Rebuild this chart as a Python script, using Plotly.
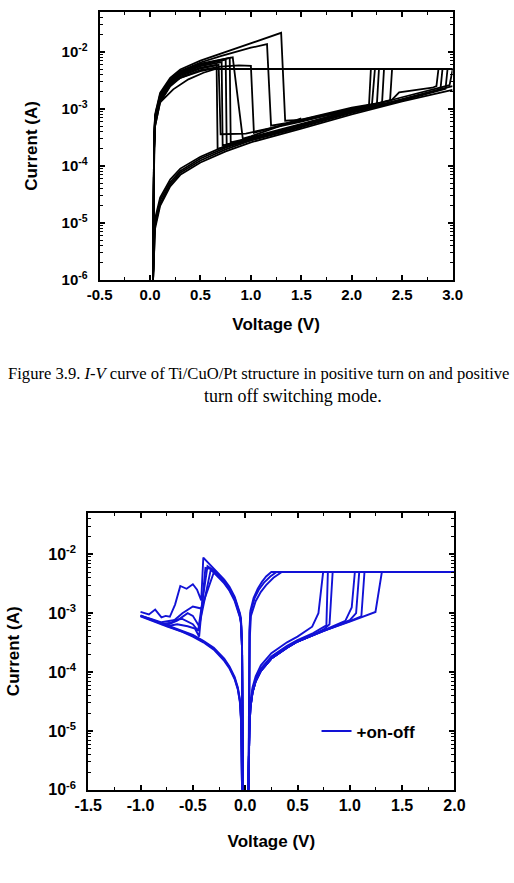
import plotly.graph_objects as go

# ---------------- top chart (Ti/CuO/Pt, positive on / positive off) ----------------
top_c1_v = [0.03, 0.035, 0.04, 0.05, 0.1, 0.2, 0.3, 0.5, 0.7, 1.0, 1.3, 1.34, 1.5, 2.0, 2.2, 2.23, 3.0]
top_c1_i = [1e-6, 2e-5, 3e-4, 8e-4, 1.9e-3, 3.5e-3, 4.9e-3, 7.0e-3, 9.3e-3, 1.42e-2, 2.15e-2, 6.2e-4, 6.4e-4, 1.0e-3, 1.15e-3, 5e-3, 5e-3]
top_c2_v = [0.03, 0.035, 0.04, 0.05, 0.1, 0.2, 0.3, 0.5, 0.7, 1.0, 1.16, 1.2, 1.5, 2.0, 2.3, 2.32]
top_c2_i = [1e-6, 2e-5, 3e-4, 7.5e-4, 1.8e-3, 3.3e-3, 4.6e-3, 6.5e-3, 8.4e-3, 1.18e-2, 1.36e-2, 5.1e-4, 6.2e-4, 9.5e-4, 1.2e-3, 5e-3]
top_c3_v = [0.03, 0.035, 0.04, 0.05, 0.1, 0.2, 0.3, 0.5, 0.7, 0.82, 0.92, 1.0, 1.5]
top_c3_i = [1e-6, 2e-5, 3e-4, 7e-4, 1.7e-3, 3.2e-3, 4.5e-3, 6.2e-3, 7.4e-3, 8.0e-3, 3.0e-4, 3.3e-4, 6.8e-4]
top_c4_v = [0.03, 0.035, 0.04, 0.05, 0.1, 0.2, 0.3, 0.5, 0.7, 0.79, 0.80, 1.0, 1.5, 2.0, 2.17, 2.19]
top_c4_i = [1e-6, 2e-5, 2.5e-4, 6.8e-4, 1.65e-3, 3.1e-3, 4.3e-3, 6.0e-3, 7.2e-3, 7.8e-3, 2.6e-4, 3.1e-4, 5.2e-4, 9e-4, 1.05e-3, 5e-3]
top_c5_v = [0.03, 0.035, 0.04, 0.05, 0.1, 0.2, 0.3, 0.5, 0.7, 0.75, 0.76, 1.0, 1.5, 2.0, 2.4, 2.47, 2.8, 2.84, 2.86]
top_c5_i = [1e-6, 2e-5, 2.5e-4, 6.5e-4, 1.6e-3, 3.0e-3, 4.2e-3, 5.8e-3, 7.0e-3, 7.3e-3, 2.4e-4, 3.0e-4, 5.3e-4, 9.5e-4, 1.45e-3, 1.95e-3, 2.35e-3, 2.5e-3, 5e-3]
top_c6_v = [0.03, 0.035, 0.04, 0.05, 0.1, 0.2, 0.3, 0.5, 0.71, 0.72, 1.0, 1.5, 2.0, 2.5, 2.88, 2.9]
top_c6_i = [1e-6, 2e-5, 2.2e-4, 6e-4, 1.5e-3, 2.9e-3, 4.0e-3, 5.6e-3, 6.6e-3, 2.3e-4, 2.9e-4, 5e-4, 8.8e-4, 1.45e-3, 2.2e-3, 5e-3]
top_c7_v = [0.03, 0.035, 0.04, 0.05, 0.1, 0.2, 0.3, 0.5, 0.66, 0.67, 1.0, 1.5, 2.0, 2.5, 2.93, 2.95]
top_c7_i = [1e-6, 1.5e-5, 2e-4, 5.5e-4, 1.45e-3, 2.8e-3, 3.9e-3, 5.3e-3, 5.9e-3, 2.0e-4, 2.8e-4, 4.8e-4, 8.5e-4, 1.4e-3, 2.25e-3, 5e-3]
top_c8_v = [0.03, 0.035, 0.04, 0.05, 0.1, 0.2, 0.3, 0.5, 0.7, 0.88, 1.0, 1.03, 1.5, 2.0, 2.25, 2.27]
top_c8_i = [1e-6, 1.5e-5, 2e-4, 5e-4, 1.3e-3, 2.5e-3, 3.5e-3, 4.8e-3, 5.5e-3, 5.8e-3, 5.7e-3, 3.8e-4, 6.5e-4, 1.05e-3, 1.25e-3, 5e-3]
top_c9_v = [0.03, 0.035, 0.04, 0.05, 0.1, 0.2, 0.3, 0.5, 0.68, 0.7, 0.95, 1.5, 2.0, 2.38, 2.4]
top_c9_i = [1e-6, 1.5e-5, 2e-4, 5e-4, 1.35e-3, 2.6e-3, 3.7e-3, 5.1e-3, 5.9e-3, 3.6e-4, 3.7e-4, 6e-4, 1e-3, 1.4e-3, 5e-3]
top_r1_v = [3.0, 0.65, 0.53, 0.38, 0.23, 0.1, 0.066, 0.05, 0.04, 0.035, 0.03]
top_r1_i = [5e-3, 5e-3, 4.3e-3, 3.3e-3, 2.2e-3, 1.3e-3, 1e-3, 6e-4, 1e-4, 1e-5, 1e-6]
top_r2_v = [3.0, 0.6, 0.5, 0.3, 0.2, 0.1, 0.05, 0.04, 0.035, 0.03]
top_r2_i = [5e-3, 5e-3, 4.6e-3, 3.5e-3, 2.8e-3, 1.6e-3, 7e-4, 1.5e-4, 1e-5, 1e-6]
top_h_v = [0.03, 0.035, 0.04, 0.05, 0.1, 0.2, 0.3, 0.5, 0.75, 1.0, 1.5, 2.0, 2.5, 3.0]
top_h1_i = [1e-6, 2e-6, 4e-6, 8e-6, 2e-5, 4.4e-5, 7e-5, 1.15e-4, 1.8e-4, 2.6e-4, 4.5e-4, 8e-4, 1.35e-3, 2.15e-3]
top_h2_i = [1e-6, 2.5e-6, 5e-6, 1e-5, 2.5e-5, 5.2e-5, 8.2e-5, 1.35e-4, 2.1e-4, 3e-4, 5e-4, 8.8e-4, 1.5e-3, 2.5e-3]
top_h3_v = [0.03, 0.035, 0.04, 0.05, 0.1, 0.2, 0.3, 0.5, 0.75, 1.0, 1.5, 2.0, 2.5, 2.97, 3.0]
top_h3_i = [1e-6, 3e-6, 6e-6, 1.2e-5, 2.8e-5, 5.8e-5, 9e-5, 1.45e-4, 2.25e-4, 3.2e-4, 5.5e-4, 9.5e-4, 1.6e-3, 2.6e-3, 4.8e-3]
top_h4_v = [0.03, 0.035, 0.04, 0.05, 0.1, 0.2, 0.3, 0.5, 0.75, 1.0, 1.5]
top_h4_i = [1e-6, 2e-6, 5e-6, 9e-6, 2.2e-5, 4.8e-5, 7.6e-5, 1.25e-4, 1.95e-4, 2.8e-4, 4.8e-4]

# ---------------- bottom chart (+on-off) ----------------
bot_n1_v = [-0.02, -0.025, -0.03, -0.04, -0.05, -0.1, -0.15, -0.2, -0.25, -0.3, -0.35, -0.4, -0.42, -0.46, -0.5, -0.56, -0.62, -0.67, -0.72, -0.76, -0.8, -0.86, -0.92, -1.0]
bot_n1_i = [1e-6, 2e-5, 3e-4, 8e-4, 1e-3, 1.9e-3, 2.8e-3, 3.7e-3, 4.6e-3, 5.6e-3, 7e-3, 8.8e-3, 1.65e-3, 2.5e-3, 3.1e-3, 2.6e-3, 2.9e-3, 1.4e-3, 8.7e-4, 9e-4, 8.5e-4, 1.15e-3, 9.5e-4, 1.05e-3]
bot_n2_v = [-0.02, -0.025, -0.03, -0.04, -0.05, -0.1, -0.15, -0.2, -0.25, -0.3, -0.36, -0.45, -0.5, -0.6, -0.7, -0.8, -0.9, -1.0]
bot_n2_i = [1e-6, 2e-5, 3e-4, 7.5e-4, 9.5e-4, 1.8e-3, 2.6e-3, 3.5e-3, 4.4e-3, 5.3e-3, 6.3e-3, 5e-4, 6.5e-4, 8e-4, 7.5e-4, 7e-4, 8e-4, 9e-4]
bot_n3_v = [-0.02, -0.025, -0.03, -0.04, -0.05, -0.1, -0.15, -0.2, -0.25, -0.33, -0.44, -0.5, -0.55, -0.65, -0.75]
bot_n3_i = [1e-6, 2e-5, 2.5e-4, 7e-4, 9e-4, 1.7e-3, 2.5e-3, 3.3e-3, 4.2e-3, 5.4e-3, 6e-4, 9e-4, 1.0e-3, 7.5e-4, 6.3e-4]
bot_n4_v = [-0.02, -0.025, -0.03, -0.04, -0.05, -0.1, -0.15, -0.2, -0.3, -0.42, -0.5, -0.6, -0.7, -0.8]
bot_n4_i = [1e-6, 1.5e-5, 2.5e-4, 6.5e-4, 8.5e-4, 1.6e-3, 2.4e-3, 3.2e-3, 4.9e-3, 1.2e-3, 1.3e-3, 1.0e-3, 7e-4, 6.5e-4]
bot_n5_v = [-0.02, -0.025, -0.03, -0.04, -0.05, -0.1, -0.15, -0.2, -0.25, -0.32, -0.38, -0.44, -0.48, -0.55, -0.65, -0.75]
bot_n5_i = [1e-6, 1.5e-5, 2.5e-4, 7e-4, 9e-4, 1.75e-3, 2.6e-3, 3.4e-3, 4.3e-3, 5.6e-3, 5.9e-3, 4e-4, 5.5e-4, 6e-4, 6.5e-4, 6e-4]
bot_nh_v = [-1.0, -0.9, -0.75, -0.6, -0.5, -0.4, -0.3, -0.2, -0.15, -0.1, -0.07, -0.05, -0.04, -0.035, -0.03]
bot_nh1_i = [8.8e-4, 7.5e-4, 6e-4, 4.8e-4, 4e-4, 3.2e-4, 2.4e-4, 1.55e-4, 1.15e-4, 7.5e-5, 5e-5, 3e-5, 1.5e-5, 4e-6, 1e-6]
bot_nh2_i = [9.2e-4, 7.9e-4, 6.4e-4, 5.1e-4, 4.3e-4, 3.4e-4, 2.6e-4, 1.7e-4, 1.25e-4, 8.2e-5, 5.5e-5, 3.4e-5, 1.7e-5, 5e-6, 1e-6]
bot_nh3_i = [9e-4, 7.7e-4, 6.2e-4, 4.95e-4, 4.15e-4, 3.3e-4, 2.5e-4, 1.62e-4, 1.2e-4, 7.8e-5, 5.2e-5, 3.2e-5, 1.6e-5, 4.5e-6, 1e-6]
bot_p1_v = [0.03, 0.035, 0.04, 0.05, 0.07, 0.1, 0.15, 0.25, 0.4, 0.5, 0.64, 0.7, 0.745, 2.0]
bot_p1_i = [1e-6, 5e-6, 1.3e-5, 3e-5, 5.5e-5, 8.5e-5, 1.3e-4, 2.1e-4, 3.2e-4, 4e-4, 5.9e-4, 1e-3, 5e-3, 5e-3]
bot_p2_v = [0.03, 0.035, 0.04, 0.05, 0.07, 0.1, 0.15, 0.25, 0.4, 0.5, 0.65, 0.776, 0.79]
bot_p2_i = [1e-6, 4.5e-6, 1.1e-5, 2.7e-5, 5e-5, 7.5e-5, 1.15e-4, 1.85e-4, 2.8e-4, 3.5e-4, 4.6e-4, 6.2e-4, 5e-3]
bot_p3_v = [0.03, 0.035, 0.04, 0.05, 0.07, 0.1, 0.15, 0.25, 0.4, 0.5, 0.65, 0.75, 0.806, 0.836]
bot_p3_i = [1e-6, 4e-6, 1e-5, 2.5e-5, 4.5e-5, 7e-5, 1.05e-4, 1.7e-4, 2.6e-4, 3.3e-4, 4.3e-4, 5.3e-4, 6.5e-4, 5e-3]
bot_p4_v = [0.03, 0.035, 0.04, 0.05, 0.07, 0.1, 0.15, 0.25, 0.4, 0.5, 0.65, 0.75, 0.957, 1.018, 1.048]
bot_p4_i = [1e-6, 4e-6, 1e-5, 2.5e-5, 4.5e-5, 7e-5, 1.05e-4, 1.7e-4, 2.6e-4, 3.3e-4, 4.3e-4, 5.1e-4, 7.4e-4, 1.25e-3, 5e-3]
bot_p5_v = [0.03, 0.035, 0.04, 0.05, 0.07, 0.1, 0.15, 0.25, 0.4, 0.5, 0.75, 1.0, 1.06, 1.09]
bot_p5_i = [1e-6, 4e-6, 1e-5, 2.5e-5, 4.5e-5, 7e-5, 1.05e-4, 1.7e-4, 2.6e-4, 3.3e-4, 5e-4, 7.6e-4, 1.0e-3, 5e-3]
bot_p6_v = [0.03, 0.035, 0.04, 0.05, 0.07, 0.1, 0.15, 0.25, 0.4, 0.5, 0.75, 1.0, 1.11, 1.14]
bot_p6_i = [1e-6, 4e-6, 1e-5, 2.5e-5, 4.5e-5, 7e-5, 1.05e-4, 1.7e-4, 2.6e-4, 3.3e-4, 5e-4, 7.3e-4, 8.8e-4, 5e-3]
bot_p7_v = [0.03, 0.035, 0.04, 0.05, 0.07, 0.1, 0.15, 0.25, 0.4, 0.5, 0.65, 0.75, 1.0, 1.245, 1.306, 2.0]
bot_p7_i = [1e-6, 4e-6, 1e-5, 2.5e-5, 4.5e-5, 7e-5, 1.05e-4, 1.7e-4, 2.6e-4, 3.3e-4, 4.3e-4, 5e-4, 7.2e-4, 1.05e-3, 5e-3, 5e-3]
bot_r1_v = [2.0, 0.25, 0.2, 0.16, 0.12, 0.08, 0.05, 0.04, 0.035, 0.03]
bot_r1_i = [5e-3, 5e-3, 4.2e-3, 3.4e-3, 2.6e-3, 1.8e-3, 1.1e-3, 5e-4, 1e-5, 1e-6]
bot_r2_v = [2.0, 0.35, 0.27, 0.2, 0.15, 0.1, 0.055, 0.045, 0.04, 0.035]
bot_r2_i = [5e-3, 5e-3, 4e-3, 3.0e-3, 2.3e-3, 1.6e-3, 9e-4, 4e-4, 2e-5, 1e-6]
bot_r3_v = [2.0, 0.3, 0.24, 0.18, 0.13, 0.09, 0.05, 0.042, 0.037, 0.032]
bot_r3_i = [5e-3, 5e-3, 4.2e-3, 3.3e-3, 2.5e-3, 1.8e-3, 1e-3, 4.5e-4, 1.5e-5, 1e-6]

top_curves = [
    (top_c1_v, top_c1_i), (top_c2_v, top_c2_i), (top_c3_v, top_c3_i), (top_c4_v, top_c4_i),
    (top_c5_v, top_c5_i), (top_c6_v, top_c6_i), (top_c7_v, top_c7_i), (top_c8_v, top_c8_i),
    (top_c9_v, top_c9_i), (top_r1_v, top_r1_i), (top_r2_v, top_r2_i), (top_h_v, top_h1_i),
    (top_h_v, top_h2_i), (top_h3_v, top_h3_i), (top_h4_v, top_h4_i),
]
bot_curves = [
    (bot_n1_v, bot_n1_i), (bot_n2_v, bot_n2_i), (bot_n3_v, bot_n3_i), (bot_n4_v, bot_n4_i),
    (bot_n5_v, bot_n5_i), (bot_nh_v, bot_nh1_i), (bot_nh_v, bot_nh2_i), (bot_nh_v, bot_nh3_i),
    (bot_p1_v, bot_p1_i), (bot_p2_v, bot_p2_i), (bot_p3_v, bot_p3_i), (bot_p4_v, bot_p4_i),
    (bot_p5_v, bot_p5_i), (bot_p6_v, bot_p6_i), (bot_p7_v, bot_p7_i), (bot_r1_v, bot_r1_i),
    (bot_r2_v, bot_r2_i), (bot_r3_v, bot_r3_i),
]

top_xticks = [-0.5, 0.0, 0.5, 1.0, 1.5, 2.0, 2.5, 3.0]
top_xlabels = ["-0.5", "0.0", "0.5", "1.0", "1.5", "2.0", "2.5", "3.0"]
top_xminor = [-0.25, 0.25, 0.75, 1.25, 1.75, 2.25, 2.75]
bot_xticks = [-1.5, -1.0, -0.5, 0.0, 0.5, 1.0, 1.5, 2.0]
bot_xlabels = ["-1.5", "-1.0", "-0.5", "0.0", "0.5", "1.0", "1.5", "2.0"]
bot_xminor = [-1.25, -0.75, -0.25, 0.25, 0.75, 1.25, 1.75]
yticks = [1e-6, 1e-5, 1e-4, 1e-3, 1e-2]
ylabels = ["10<sup>-6</sup>", "10<sup>-5</sup>", "10<sup>-4</sup>", "10<sup>-3</sup>", "10<sup>-2</sup>"]
yminor = [m * d for d in yticks for m in (2, 3, 4, 5, 6, 7, 8, 9)]

legend_name = "+on-off"
caption_line1 = "Figure 3.9. <i>I-V</i> curve of Ti/CuO/Pt structure in positive turn on and positive"
caption_line2 = "turn off switching mode."

BLACK = "#000000"
BLUE = "#1212d6"
SANS = "Liberation Sans, Arial, sans-serif"
SERIF = "Liberation Serif, Times New Roman, serif"

fig = go.Figure()
for v, i in top_curves:
    fig.add_trace(go.Scatter(x=v, y=i, mode="lines", line=dict(color=BLACK, width=1.8),
                             xaxis="x", yaxis="y", showlegend=False, hoverinfo="skip"))
for k, (v, i) in enumerate(bot_curves):
    fig.add_trace(go.Scatter(x=v, y=i, mode="lines", line=dict(color=BLUE, width=1.9),
                             xaxis="x2", yaxis="y2", name=legend_name, legendgroup="onoff",
                             showlegend=(k == 0), hoverinfo="skip"))

W, H = 514, 883


def xax(dom, rng, tv, tt, mv, size, standoff):
    return dict(domain=dom, range=rng, tickmode="array", tickvals=tv, ticktext=tt,
                ticks="inside", ticklen=5, tickwidth=1.5, tickcolor=BLACK,
                minor=dict(ticks="inside", ticklen=3, tickwidth=1.3, tickmode="array", tickvals=mv,
                           tickcolor=BLACK, showgrid=False),
                showline=True, linewidth=2, linecolor=BLACK, mirror="allticks",
                showgrid=False, zeroline=False,
                tickfont=dict(family=SANS, size=size, color=BLACK, weight="bold"),
                title=dict(text="Voltage (V)", standoff=standoff,
                           font=dict(family=SANS, size=17, color=BLACK, weight="bold")))


def yax(dom, rng, size, standoff):
    return dict(domain=dom, type="log", range=rng, tickmode="array", tickvals=yticks, ticktext=ylabels,
                ticks="inside", ticklen=5, tickwidth=1.5, tickcolor=BLACK,
                minor=dict(ticks="inside", ticklen=3, tickwidth=1, tickmode="array", tickvals=yminor,
                           tickcolor=BLACK, showgrid=False),
                showline=True, linewidth=2, linecolor=BLACK, mirror="allticks",
                showgrid=False, zeroline=False, ticklabelstandoff=7,
                tickfont=dict(family=SANS, size=size, color=BLACK, weight="bold"),
                title=dict(text="Current (A)", standoff=standoff,
                           font=dict(family=SANS, size=17, color=BLACK, weight="bold")))


fig.update_layout(
    width=W, height=H, margin=dict(l=0, r=0, t=0, b=0),
    paper_bgcolor="white", plot_bgcolor="white",
    xaxis=dict(anchor="y", **xax([90 / W, 461 / W], [-0.5, 3.0], top_xticks, top_xlabels, top_xminor, 15, 16)),
    yaxis=dict(anchor="x", **yax([1 - 283 / H, 1 - 12 / H], [-6, -1.3], 15, 20)),
    xaxis2=dict(anchor="y2", **xax([78 / W, 463 / W], [-1.5, 2.0], bot_xticks, bot_xlabels, bot_xminor, 16, 22)),
    yaxis2=dict(anchor="x2", **yax([1 - 798 / H, 1 - 518 / H], [-6, -1.294], 16, 24)),
    showlegend=True,
    legend=dict(x=318 / W, y=1 - 739 / H, xanchor="left", yanchor="middle",
                bgcolor="rgba(0,0,0,0)", borderwidth=0,
                font=dict(family=SANS, size=17, color=BLACK, weight="bold")),
    annotations=[
        dict(text=caption_line1, x=257 / W, y=1 - 377 / H, xref="paper", yref="paper",
             showarrow=False, xanchor="center", yanchor="middle",
             font=dict(family=SERIF, size=16.6, color=BLACK)),
        dict(text=caption_line2, x=293 / W, y=1 - 400 / H, xref="paper", yref="paper",
             showarrow=False, xanchor="center", yanchor="middle",
             font=dict(family=SERIF, size=18, color=BLACK)),
    ],
)

fig.write_html("out.html")
